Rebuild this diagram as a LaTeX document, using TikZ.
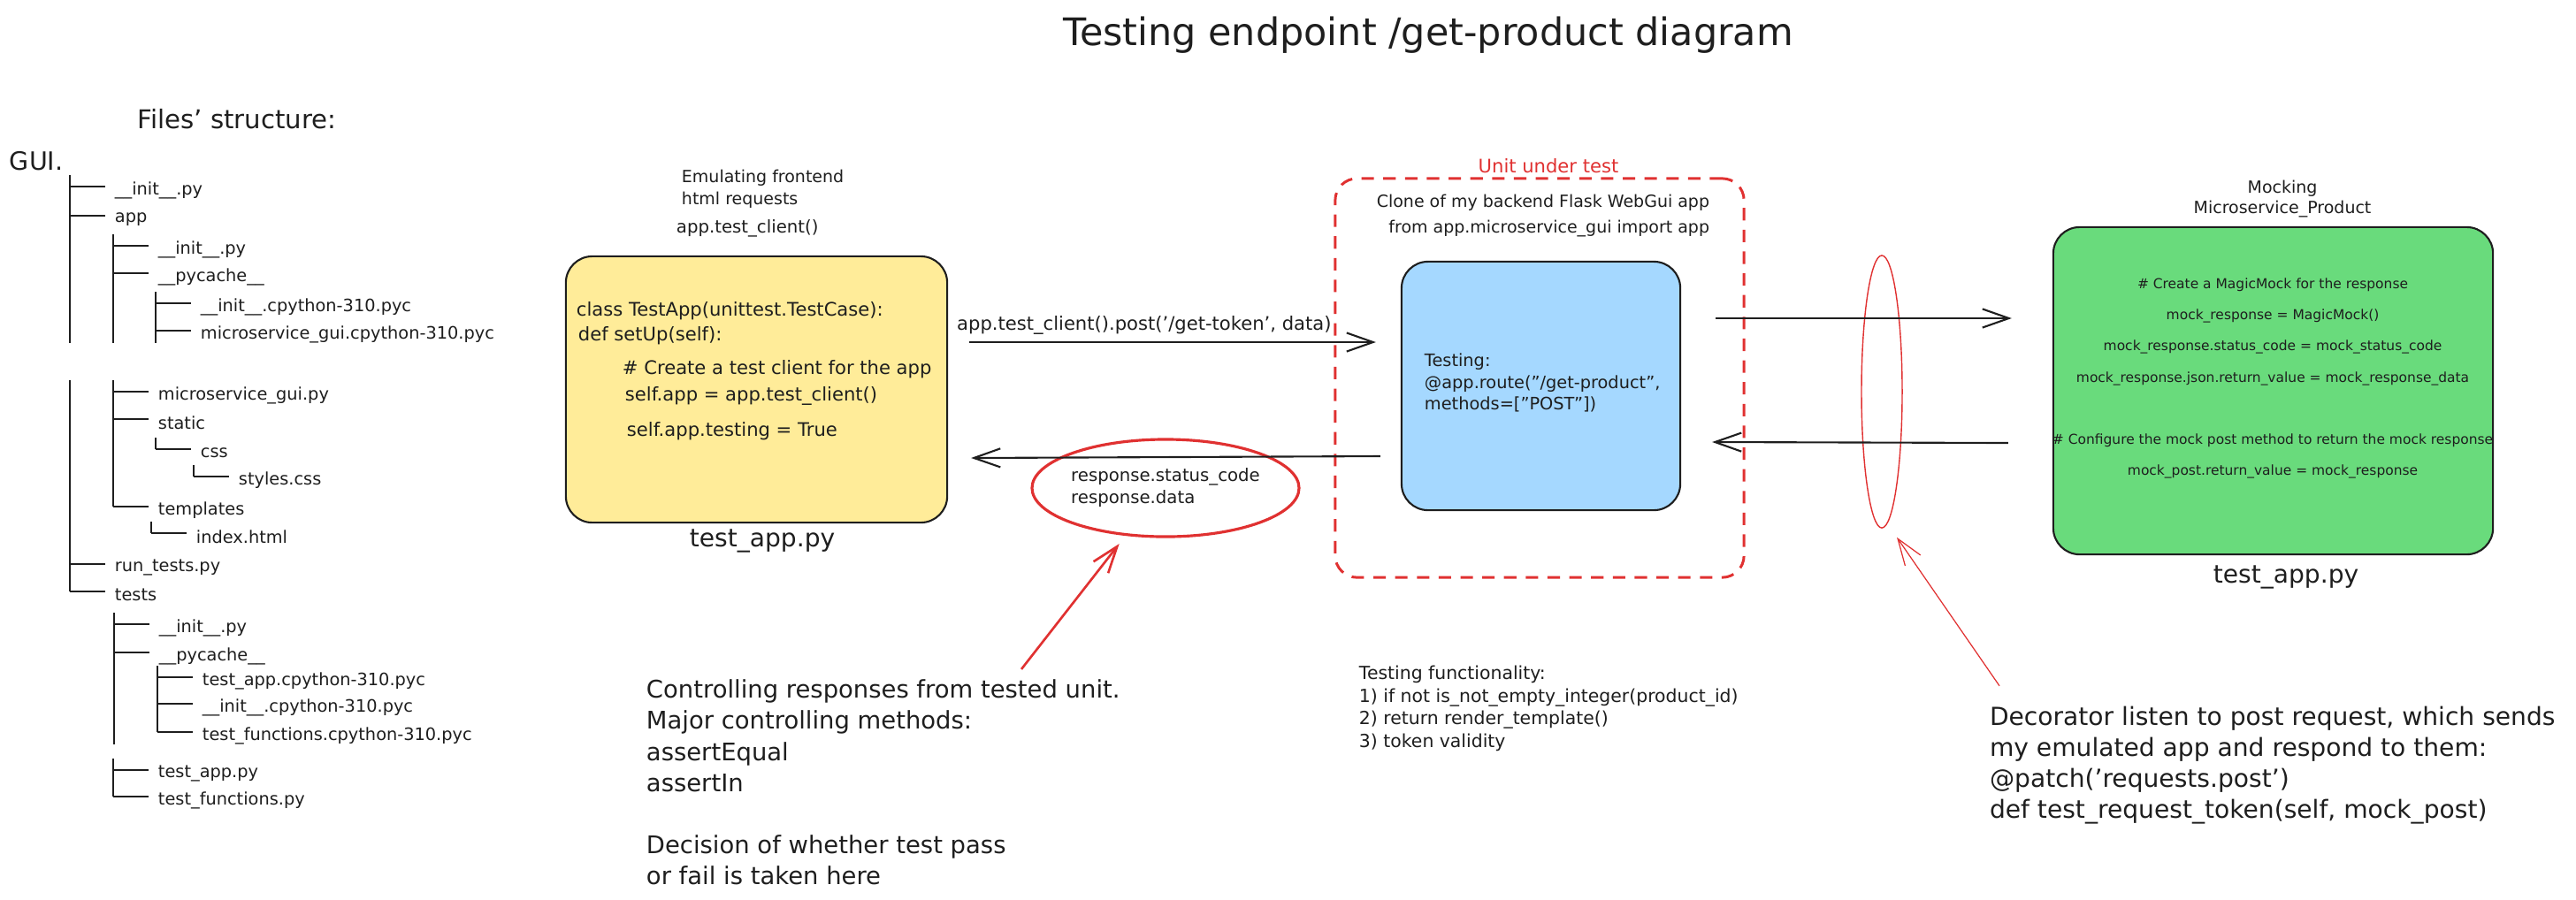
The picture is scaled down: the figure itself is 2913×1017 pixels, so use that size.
\documentclass[tikz,border=0pt]{standalone}
\usepackage{fontspec}
\setmainfont{DejaVu Sans}
\usetikzlibrary{arrows.meta,shapes.geometric,calc}

\definecolor{inkdark}{HTML}{1E1E1E}
\definecolor{inkred}{HTML}{E03131}
\definecolor{padyellow}{HTML}{FFEC99}
\definecolor{padblue}{HTML}{A5D8FF}
\definecolor{padgreen}{HTML}{69DB7C}

\begin{document}
\begin{tikzpicture}[x=0.01cm, y=-0.01cm, color=inkdark, line width=0.55pt,
	txt/.style 2 args={inner sep=0pt, font=\fontsize{#1}{#2}\selectfont},
	tree/.style={txt={5.5}{6.6}, anchor=west},
	code/.style={txt={6}{7.2}, anchor=west},
	box/.style={draw=inkdark, rounded corners=8.5pt, line width=0.6pt, inner sep=0pt},
	arr/.style={-{Straight Barb[length=8.5pt,width=6pt]}, line width=0.6pt},
	redarr/.style={-{Straight Barb[length=8.5pt,width=6pt]}, draw=inkred}]
		\useasboundingbox (0,0) rectangle (2913,1017);
		\node[txt={12.2}{14}] (title) at (1615,40) {Testing endpoint /get-product diagram};

		% files tree
		\node[txt={8.3}{10}] (filestitle) at (268,135) {Files' structure:};
		\node[txt={8.1}{10}, anchor=west] (guiroot) at (10,182) {GUI.};
		\foreach \cx/\ry/\fname [count=\i] in {
			79/215/{\_\_init\_\_.py}, 79/248/{app},
			128/282/{\_\_init\_\_.py}, 128/313/{\_\_pycache\_\_},
			176/347/{\_\_init\_\_.cpython-310.pyc}, 176/378/{microservice\_gui.cpython-310.pyc},
			128/447/{microservice\_gui.py}, 128/478/{static},
			176/512/{css}, 219/543/{styles.css},
			128/577/{templates}, 171/607/{index.html},
			79/642/{run\_tests.py}, 79/673/{tests},
			129/710/{\_\_init\_\_.py}, 129/742/{\_\_pycache\_\_},
			178/770/{test\_app.cpython-310.pyc}, 178/800/{\_\_init\_\_.cpython-310.pyc},
			178/832/{test\_functions.cpython-310.pyc},
			128/875/{test\_app.py}, 128/905/{test\_functions.py}}{
			\draw[line width=0.45pt] (\cx,\ry-4) -- ++(40,0);
			\node[tree] (file\i) at (\cx+50,\ry) {\fname};
		}
		\draw[line width=0.45pt] (79,198) -- (79,388);
		\draw[line width=0.45pt] (79,430) -- (79,669);
		\draw[line width=0.45pt] (128,265) -- (128,388);
		\draw[line width=0.45pt] (128,430) -- (128,573);
		\draw[line width=0.45pt] (176,330) -- (176,388);
		\draw[line width=0.45pt] (176,495) -- (176,508);
		\draw[line width=0.45pt] (219,526) -- (219,539);
		\draw[line width=0.45pt] (171,590) -- (171,603);
		\draw[line width=0.45pt] (129,693) -- (129,842);
		\draw[line width=0.45pt] (178,753) -- (178,828);
		\draw[line width=0.45pt] (128,858) -- (128,901);

		% emulated frontend
		\node[txt={5.4}{7.1}, anchor=west, align=left] (emul) at (770,213.5) {Emulating frontend\\html requests};
		\node[txt={5.6}{7}, anchor=west] (clientcall) at (764,258) {app.test\_client()};
		\node[box, fill=padyellow, minimum width=4.31cm, minimum height=3.01cm] (testapp) at (855.5,440.5) {};
		\node[code] (cls) at (651,352) {class TestApp(unittest.TestCase):};
		\node[code] (setup) at (653,380) {def setUp(self):};
		\node[code] (comment) at (703,418) {\# Create a test client for the app};
		\node[code] (selfapp) at (706,448) {self.app = app.test\_client()};
		\node[code] (testing) at (708,488) {self.app.testing = True};
		\node[txt={8}{9.6}] (testapplbl) at (862,612) {test\_app.py};

		% unit under test
		\node[draw=inkred, line width=0.85pt, dash pattern=on 4pt off 3pt, rounded corners=7pt,
			minimum width=4.62cm, minimum height=4.51cm] (unitbox) at (1741,427.5) {};
		\node[txt={6}{7.2}, text=inkred] (unitlbl) at (1751,188) {Unit under test};
		\node[txt={5.4}{8.25}, align=right, anchor=east] (clonelbl) at (1934,244.5) {Clone of my backend Flask WebGui app\\from app.microservice\_gui import app};
		\node[box, fill=padblue, minimum width=3.15cm, minimum height=2.81cm] (routebox) at (1742.5,436.5) {};
		\node[txt={5.5}{7}, align=left, anchor=west] (routetxt) at (1610,433) {Testing:\\@app.route("/get-product",\\methods=["POST"])};
		\node[ellipse, draw=inkred, line width=0.9pt, minimum width=2.85cm, minimum height=1.1cm,
			txt={5.6}{7.1}, align=left] (respring) at (1318,552) {response.status\_code\\response.data};

		% mocked microservice
		\node[txt={5.4}{6.8}, align=center] (mocklbl) at (2581,225) {Mocking\\Microservice\_Product};
		\node[box, fill=padgreen, minimum width=4.97cm, minimum height=3.70cm] (mockbox) at (2570.5,442) {};
		\node[txt={4.4}{10}, align=center] (mockcode) at (2570,428) {\# Create a MagicMock for the response\\mock\_response = MagicMock()\\mock\_response.status\_code = mock\_status\_code\\mock\_response.json.return\_value = mock\_response\_data\\[10pt]\# Configure the mock post method to return the mock response\\mock\_post.return\_value = mock\_response};
		\node[txt={8}{9.6}] (mockapplbl) at (2585,653) {test\_app.py};
		\node[ellipse, draw=inkred, line width=0.4pt, minimum width=0.46cm, minimum height=3.08cm, inner sep=0pt] (patchring) at (2128,443) {};

		% notes
		\node[txt={5.8}{7.3}, align=left, anchor=west] (functxt) at (1536,801.5) {Testing functionality:\\1) if not is\_not\_empty\_integer(product\_id)\\2) return render\_template()\\3) token validity};
		\node[txt={7.8}{10}, align=left, anchor=west] (ctrltxt) at (730,885) {Controlling responses from tested unit.\\Major controlling methods:\\assertEqual\\assertIn\\[10pt]Decision of whether test pass\\or fail is taken here};
		\node[txt={8}{10}, align=left, anchor=west] (decortxt) at (2249,865.5) {Decorator listen to post request, which sends\\my emulated app and respond to them:\\@patch('requests.post')\\def test\_request\_token(self, mock\_post)};

		% connectors
		\draw[arr] ($(testapp.east)+(24,-53.5)$) -- node[pos=0.43, above=2pt, txt={6}{7.2}] (postlbl) {app.test\_client().post('/get-token', data)} ($(routebox.west)+(-28,-49.5)$);
		\draw[arr] ($(routebox.west)+(-23,79.5)$) -- ($(testapp.east)+(26,77.5)$);
		\draw[arr] ($(routebox.east)+(39,-76.5)$) -- ($(mockbox.west)+(-46,-82)$);
		\draw[arr] ($(mockbox.west)+(-50,59)$) -- ($(routebox.east)+(35,63.5)$);
		\draw[redarr, line width=0.75pt] ($(ctrltxt.north west)+(425,-11)$) -- ($(respring.230)+(-7,9)$);
		\draw[redarr, line width=0.35pt] ($(decortxt.north west)+(12,-22)$) -- ($(patchring.south)+(17,10)$);
	\end{tikzpicture}
\end{document}
